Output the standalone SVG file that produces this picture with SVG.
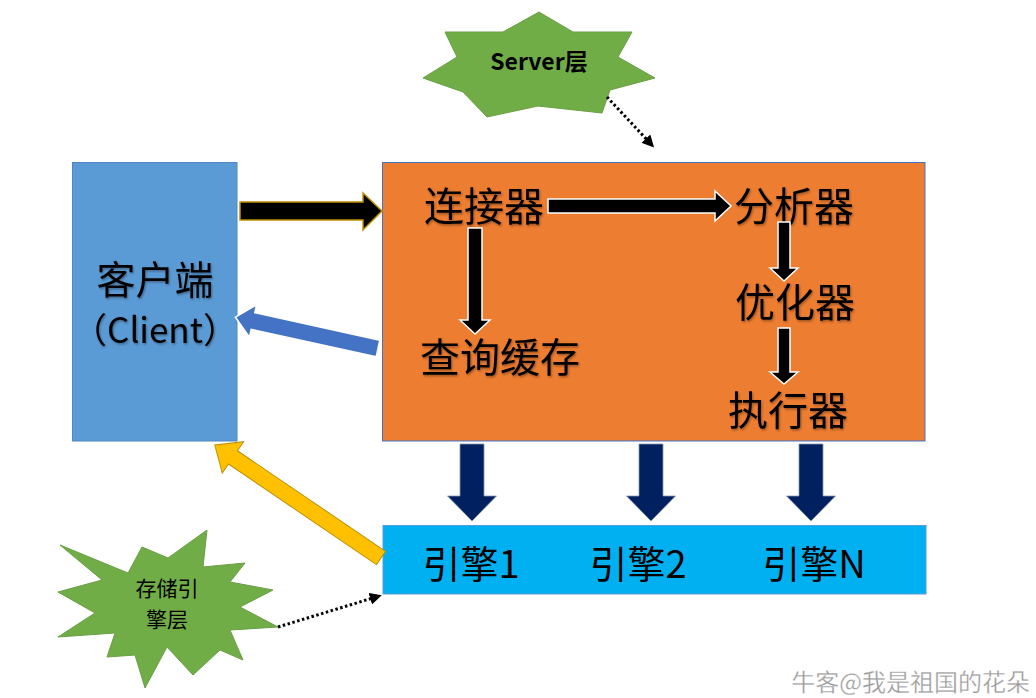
<svg xmlns="http://www.w3.org/2000/svg" width="1036" height="698" viewBox="0 0 1036 698">
<style>
.cjk{font-family:"Noto Sans CJK SC","Noto Sans",sans-serif;fill:#000;}
.big{font-size:40px;text-anchor:middle;}
.eng{font-size:38px;text-anchor:middle;}
.star{fill:#70AD47;stroke:#6A9F45;stroke-width:1;}
.flow{fill:#000;stroke:#fff;stroke-width:1.5;}
.down{fill:#002060;stroke:#8497B0;stroke-width:0.8;}
.dot{fill:none;stroke:#000;stroke-width:3;stroke-dasharray:2.5 2.5;}
</style>
<defs>
<filter id="sh" x="-10%" y="-10%" width="120%" height="130%">
<feDropShadow dx="1" dy="1.5" stdDeviation="1" flood-color="#000" flood-opacity="0.35"/>
</filter>
<marker id="ah" markerWidth="4" markerHeight="4" refX="2" refY="2" orient="auto" markerUnits="strokeWidth">
<path d="M0,0 L4,2 L0,4 Z" fill="#000"/>
</marker>
</defs>
<rect width="1036" height="698" fill="#fff"/>

<g id="client">
<rect x="72.5" y="162.5" width="164.5" height="278.5" fill="#5B9BD5" stroke="#4F88C0" stroke-width="1"/>
<text class="cjk" text-anchor="middle" filter="url(#sh)"><tspan x="155" y="294" font-size="39">客户端</tspan><tspan x="155" y="343" font-size="35">（Client）</tspan></text>
</g>

<g id="server">
<rect x="382.5" y="162.5" width="542.5" height="278.5" fill="#ED7D31" stroke="#4472C4" stroke-width="1"/>
<text id="connector" class="cjk big" x="484" y="221" filter="url(#sh)">连接器</text>
<text id="analyzer" class="cjk big" x="794" y="221" filter="url(#sh)">分析器</text>
<text id="optimizer" class="cjk big" x="795" y="317" filter="url(#sh)">优化器</text>
<text id="cache" class="cjk big" x="500" y="372" filter="url(#sh)">查询缓存</text>
<text id="executor" class="cjk big" x="788" y="425" filter="url(#sh)">执行器</text>
</g>

<g id="engines">
<rect x="383" y="525.5" width="543" height="68.5" fill="#00B0F0" stroke="#5B9BD5" stroke-width="1"/>
<text class="cjk eng" x="471" y="578">引擎1</text>
<text class="cjk eng" x="638" y="578">引擎2</text>
<text class="cjk eng" x="814" y="578">引擎N</text>
</g>

<g id="server-layer">
<polygon class="star" points="539,12 573,32 632,32 618,57 655,78 610,90 602,113 538,106 487,117 463,92 423,78 457,57 445,32 503,32"/>
<text x="539" y="70" font-family="'Noto Sans CJK SC','Noto Sans',sans-serif" font-size="23" font-weight="bold" text-anchor="middle" fill="#000">Server层</text>
</g>

<g id="storage-layer">
<polygon class="star" points="60,545 128,573 142,547 168,558 207,530 203,567 245,563 230,582 273,590 240,607 278,627 230,630 243,660 220,650 193,675 167,647 145,688 135,655 107,657 115,633 58,637 95,613 58,592 102,580"/>
<text class="cjk" font-size="21" text-anchor="middle"><tspan x="167" y="596">存储引</tspan><tspan x="167" y="627">擎层</tspan></text>
</g>

<g id="connectors">
<polygon points="240,202 363,202 363,193 382,211 363,230 363,220 240,220" fill="#000" stroke="#C09000" stroke-width="1.5"/>
<polygon points="0,-8.5 128,-8.5 128,-16.5 146,0 128,16.5 128,8.5 0,8.5" transform="translate(378,348.5) rotate(192.4)" fill="#4472C4" stroke="#fff" stroke-width="1.5"/>
<polygon points="0,-8 179,-8 179,-19 201,0 179,19 179,8 0,8" transform="translate(381,558) rotate(214.2)" fill="#FFC000" stroke="#BF9000" stroke-width="1"/>
<polygon class="flow" points="548,199 715,199 715,191 731,206 715,221 715,213 548,213"/>
<polygon class="flow" points="468,228 482,228 482,320 490,320 475,334 460,320 468,320"/>
<polygon class="flow" points="778,222 790,222 790,268 798,268 784,281 770,268 778,268"/>
<polygon class="flow" points="778,328 790,328 790,372 798,372 784,384 770,372 778,372"/>
<polygon class="down" points="460,444 484,444 484,496 496.5,496 472,521 447.5,496 460,496"/>
<polygon class="down" points="639,444 663,444 663,496 675.5,496 651,521 626.5,496 639,496"/>
<polygon class="down" points="799,444 823,444 823,496 835.5,496 811,521 786.5,496 799,496"/>
<line class="dot" x1="607" y1="97" x2="650" y2="143" marker-end="url(#ah)"/>
<line class="dot" x1="278" y1="627" x2="376" y2="597" marker-end="url(#ah)"/>
</g>

<text x="1030" y="691" font-family="'Noto Sans CJK SC',sans-serif" font-size="24" text-anchor="end" fill="#9a9a9a" stroke="#fff" stroke-width="0.3">牛客@我是祖国的花朵</text>
</svg>
